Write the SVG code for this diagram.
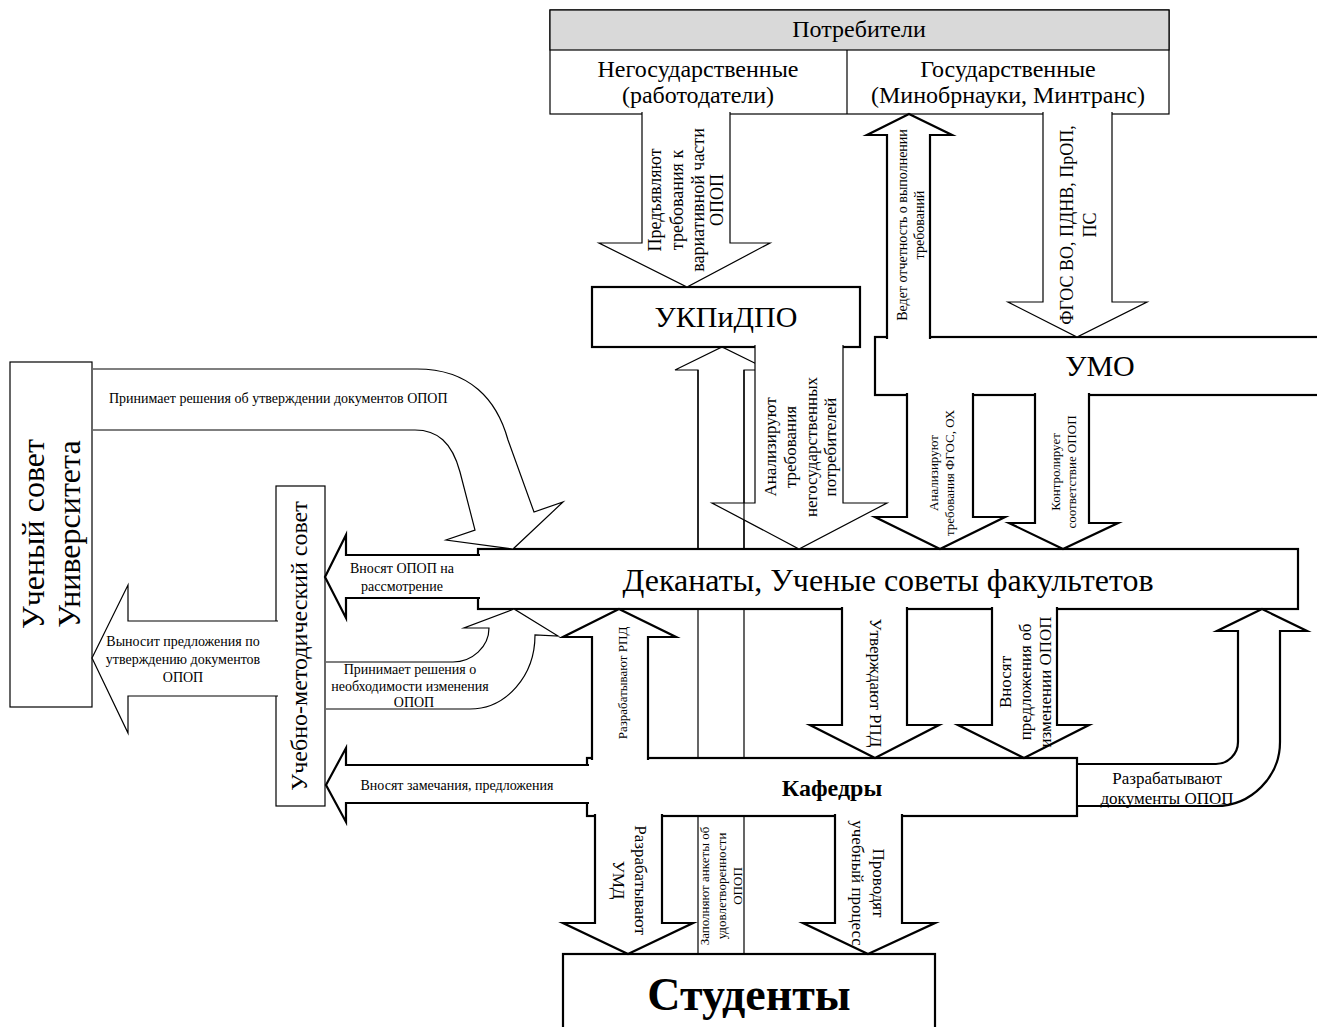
<svg xmlns="http://www.w3.org/2000/svg" width="1317" height="1027" viewBox="0 0 1317 1027">
<style>
.k{fill:#fff;stroke:#000;stroke-width:2.2;stroke-linejoin:miter;stroke-miterlimit:10}
.t{fill:#fff;stroke:#000;stroke-width:1.2;stroke-linejoin:miter;stroke-miterlimit:10}
.ln{fill:none;stroke:#000;stroke-width:1.2}
text{font-family:"Liberation Serif","Times New Roman",serif;fill:#000}
.m{text-anchor:middle}
.v{text-anchor:middle;dominant-baseline:central}
.f13{font-size:13px}.f14{font-size:14px}.f17{font-size:17px}.f18{font-size:18px}
.f24{font-size:24px}.f30{font-size:30px}.f32{font-size:32px}
.b{font-weight:bold}
</style>
<rect width="1317" height="1027" fill="#fff"/>
<g id="nodes">
 <g id="consumers">
  <rect x="550" y="10" width="619" height="104" class="t"/>
  <rect x="550" y="10" width="619" height="40" fill="#d9d9d9" stroke="#000" stroke-width="1.2"/>
  <line x1="847" y1="50" x2="847" y2="114" class="ln"/>
  <text x="859" y="37" class="m f24">Потребители</text>
  <text x="698" y="77" class="m f24">Негосударственные</text>
  <text x="698" y="103" class="m f24">(работодатели)</text>
  <text x="1008" y="77" class="m f24">Государственные</text>
  <text x="1008" y="103" class="m f24">(Минобрнауки, Минтранс)</text>
 </g>
 <g id="ukpidpo">
  <rect x="592" y="287" width="268" height="60" class="k"/>
  <text x="726" y="327" class="m f30">УКПиДПО</text>
 </g>
 <g id="umo">
  <rect x="875" y="337" width="460" height="58" class="k"/>
  <text x="1100" y="376" class="m f30">УМО</text>
 </g>
 <g id="uchenyi-sovet">
  <rect x="10" y="362" width="82" height="345" class="t"/>
  <text transform="translate(33,534) rotate(-90)" class="v f32">Ученый совет</text>
  <text transform="translate(69,534) rotate(-90)" class="v f32">Университета</text>
 </g>
 <g id="ums">
  <rect x="276" y="486" width="49" height="320" class="t"/>
  <text transform="translate(299,646) rotate(-90)" class="v f24">Учебно-методический совет</text>
 </g>
 <g id="dekanaty">
  <rect x="478" y="549" width="820" height="60" class="k"/>
  <text x="888" y="591" class="m f32">Деканаты, Ученые советы факультетов</text>
 </g>
 <g id="kafedry">
  <rect x="587" y="758" width="490" height="58" class="k"/>
  <text x="832" y="796" class="m b" style="font-size:24px">Кафедры</text>
 </g>
 <g id="studenty">
  <rect x="563" y="954" width="372" height="85" class="k"/>
  <text x="749" y="1010" class="m b" style="font-size:46px">Студенты</text>
 </g>
</g>
<g id="connectors">
 <path d="M698,549 L698,370 L675,370 L722,347 L769,370 L744,370 L744,549" class="ln"/>
 <path d="M642,112 L642,243 L599,243 L687,287 L770,243 L730,243 L730,112" class="t"/>
 <path d="M887,339 L887,135 L867,135 L909,114 L952,135 L930,135 L930,339" class="k"/>
 <path d="M1043,112 L1043,302 L1008,302 L1077,337 L1147,302 L1112,302 L1112,112" class="t"/>
 <path d="M907,393 L907,517 L875,517 L940,549 L1005,517 L973,517 L973,393" class="k"/>
 <path d="M1035,393 L1035,523 L1009,523 L1063,549 L1118,523 L1089,523 L1089,393" class="k"/>
 <path d="M755,345 L755,503 L712,503 L799,549 L887,503 L843,503 L843,345" class="t"/>
 <path d="M698,370 L698,549 M744,370 L744,549 M698,609 L698,758 M744,609 L744,758 M698,816 L698,954 M744,816 L744,954" class="ln"/>
 <path d="M93,369 L417,369 C470,369 497,400 508,440 L534,512 L563,502 L513,549 L446,540 L475,530 L460,472 C452,442 437,430 415,430 L93,430" class="t"/>
 <path d="M480,555 L346,555 L346,535 L325,577 L346,618 L346,598 L480,598" class="k"/>
 <path d="M278,621 L128,621 L128,585 L92,658 L128,733 L128,696 L278,696" class="t"/>
 <path d="M326,662 L453,662 C472,662 489,647 489,628 L464,628 L514,609 L558,636 L535,635 C535,676 506,709 470,709 L326,709" class="t"/>
 <path d="M592,760 L592,637 L563,637 L619,609 L676,637 L648,637 L648,760" class="k"/>
 <path d="M842,607 L842,725 L810,725 L875,758 L939,725 L907,725 L907,607" class="k"/>
 <path d="M992,607 L992,725 L958,725 L1024,758 L1089,725 L1057,725 L1057,607" class="k"/>
 <path d="M589,765 L346,765 L346,748 L326,785 L346,822 L346,803 L589,803" class="k"/>
 <path d="M1078,764 L1216,764 C1228,764 1238,754 1238,742 L1238,631 L1217,631 L1262,609 L1307,631 L1280,631 L1280,742 C1280,777 1251,806 1216,806 L1078,806" class="k"/>
 <path d="M595,814 L595,923 L563,923 L628,954 L693,923 L662,923 L662,814" class="k"/>
 <path d="M835,814 L835,923 L803,923 L868,954 L935,923 L902,923 L902,814" class="k"/>

 <g id="labels">
  <text transform="translate(655,200) rotate(-90)" class="v f18">Предъявляют</text>
  <text transform="translate(677,200) rotate(-90)" class="v f18">требования к</text>
  <text transform="translate(698,200) rotate(-90)" class="v f18">вариативной  части</text>
  <text transform="translate(717,200) rotate(-90)" class="v f18">ОПОП</text>

  <text transform="translate(902,225) rotate(-90)" class="v f14">Ведет отчетность о выполнении</text>
  <text transform="translate(919,225) rotate(-90)" class="v f14">требований</text>

  <text transform="translate(1067,225) rotate(-90)" class="v f18">ФГОС ВО, ПДНВ, ПрОП,</text>
  <text transform="translate(1090,225) rotate(-90)" class="v f18">ПС</text>

  <text transform="translate(770,447) rotate(-90)" class="v f17">Анализируют</text>
  <text transform="translate(790,447) rotate(-90)" class="v f17">требования</text>
  <text transform="translate(811,447) rotate(-90)" class="v f17">негосударственных</text>
  <text transform="translate(830,447) rotate(-90)" class="v f17">потребителей</text>

  <text transform="translate(933,473) rotate(-90)" class="v f13">Анализируют</text>
  <text transform="translate(949,473) rotate(-90)" class="v f13">требования ФГОС, ОХ</text>

  <text transform="translate(1055,472) rotate(-90)" class="v f13">Контролирует</text>
  <text transform="translate(1071,472) rotate(-90)" class="v f13">соответствие ОПОП</text>

  <text x="109" y="403" class="f14">Принимает решения об утверждении документов ОПОП</text>

  <text x="402" y="573" class="m f14">Вносят ОПОП на</text>
  <text x="402" y="591" class="m f14">рассмотрение</text>

  <text x="183" y="646" class="m f14">Выносит предложения по</text>
  <text x="183" y="664" class="m f14">утверждению документов</text>
  <text x="183" y="682" class="m f14">ОПОП</text>

  <text x="410" y="674" class="m f14">Принимает решения о</text>
  <text x="410" y="691" class="m f14">необходимости изменения</text>
  <text x="414" y="707" class="m f14">ОПОП</text>

  <text x="457" y="790" class="m f14">Вносят замечания, предложения</text>

  <text transform="translate(622,683) rotate(-90)" class="v f13">Разрабатывают РПД</text>

  <text transform="translate(875,683) rotate(90)" class="v f17">Утверждают РПД</text>

  <text transform="translate(1005,682) rotate(-90)" class="v f17">Вносят</text>
  <text transform="translate(1025,682) rotate(-90)" class="v f17">предложения об</text>
  <text transform="translate(1045,682) rotate(-90)" class="v f17">изменении ОПОП</text>

  <text x="1167" y="784" class="m f17">Разрабатывают</text>
  <text x="1167" y="804" class="m f17">документы ОПОП</text>

  <text transform="translate(640,880) rotate(90)" class="v f17">Разрабатывают</text>
  <text transform="translate(618,880) rotate(90)" class="v f17">УМД</text>

  <text transform="translate(704,886) rotate(-90)" class="v f13">Заполняют анкеты об</text>
  <text transform="translate(721,886) rotate(-90)" class="v f13">удовлетворенности</text>
  <text transform="translate(737,886) rotate(-90)" class="v f13">ОПОП</text>

  <text transform="translate(878,883) rotate(90)" class="v f17">Проводят</text>
  <text transform="translate(857,883) rotate(90)" class="v f17">учебный процесс</text>
 </g>
</g>
</svg>
